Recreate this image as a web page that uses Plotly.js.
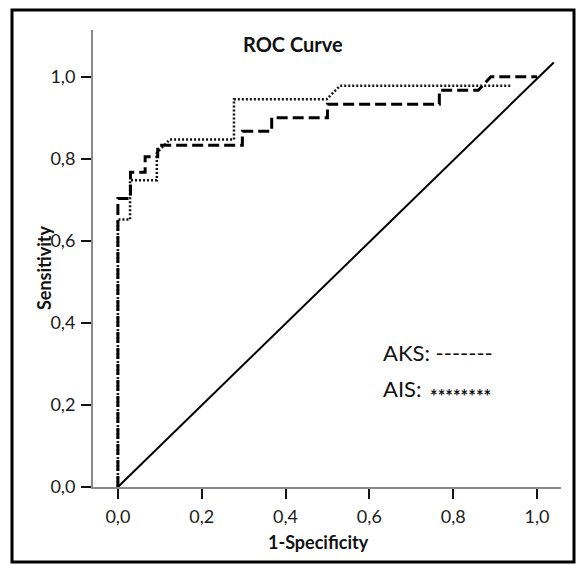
<!DOCTYPE html>
<html>
<head>
<meta charset="utf-8">
<script src="https://cdn.plot.ly/plotly-3.0.1.min.js"></script>
<style>
html,body{margin:0;padding:0;background:#fff;}
#chart{width:576px;height:565px;}
</style>
</head>
<body>
<div id="chart"></div>
<script>
// ---- data ----
const aksX = [0, 0, 0.03, 0.03, 0.065, 0.065, 0.095, 0.095, 0.297, 0.297, 0.367, 0.367, 0.50, 0.50, 0.767, 0.767, 0.86, 0.89, 1.0];
const aksY = [0, 0.703, 0.703, 0.767, 0.767, 0.805, 0.805, 0.833, 0.833, 0.867, 0.867, 0.90, 0.90, 0.933, 0.933, 0.967, 0.967, 1.0, 1.0];
const aisX = [0, 0, 0.029, 0.029, 0.093, 0.093, 0.124, 0.277, 0.277, 0.498, 0.53, 0.94];
const aisY = [0, 0.652, 0.652, 0.748, 0.748, 0.815, 0.847, 0.847, 0.945, 0.945, 0.978, 0.978];
const refX = [0, 1.04];
const refY = [0, 1.035];
const tickVals = [0, 0.2, 0.4, 0.6, 0.8, 1.0];
const tickText = ['0,0', '0,2', '0,4', '0,6', '0,8', '1,0'];
const titleText = 'ROC Curve';
const xTitle = '1-Specificity';
const yTitle = 'Sensitivity';
const legendAKS = 'AKS: -------';
const legendAISLabel = 'AIS:';
const legendAISMark = '********';

// ---- layout geometry ----
const W = 576, H = 565;
const mL = 93, mR = 15, mT = 30, mB = 78;
const pw = W - mL - mR, ph = H - mT - mB;
const px2x = p => (p - mL) / pw;
const py2y = p => (H - mB - p) / ph;
const FONT = 'Lato, "Open Sans", sans-serif';

const traces = [
  {x: refX, y: refY, mode: 'lines', line: {color: '#000', width: 2}, hoverinfo: 'skip'},
  {x: aisX, y: aisY, mode: 'lines', name: 'AIS', line: {color: '#111', width: 2.5, dash: '2px,2px'}},
  {x: aksX, y: aksY, mode: 'lines', name: 'AKS', line: {color: '#000', width: 3, dash: '11px,5px'}}
];

const axisCommon = {
  showgrid: false, zeroline: false, showline: true,
  linecolor: '#8a8a8a', linewidth: 2,
  ticks: 'outside', ticklen: 10, tickwidth: 2, tickcolor: '#111',
  tickmode: 'array', tickvals: tickVals, ticktext: tickText,
  tickfont: {family: FONT, size: 18, color: '#1a1a1a'}
};

const layout = {
  width: W, height: H, autosize: false,
  margin: {l: mL, r: mR, t: mT, b: mB, pad: 0},
  paper_bgcolor: '#fff', plot_bgcolor: '#fff',
  showlegend: false,
  xaxis: Object.assign({}, axisCommon, {range: [-0.0594, 1.0573], ticklabelstandoff: 2}),
  yaxis: Object.assign({}, axisCommon, {range: [0, 1.114], ticklabelstandoff: 2}),
  annotations: [
    {text: '<b>' + titleText + '</b>', xref: 'paper', yref: 'paper', x: px2x(293), y: py2y(44),
     xanchor: 'center', yanchor: 'middle', showarrow: false, font: {family: FONT, size: 20, color: '#111'}},
    {text: '<b>' + xTitle + '</b>', xref: 'paper', yref: 'paper', x: px2x(318), y: py2y(542),
     xanchor: 'center', yanchor: 'middle', showarrow: false, font: {family: FONT, size: 18, color: '#111'}},
    {text: '<b>' + yTitle + '</b>', xref: 'paper', yref: 'paper', x: px2x(44), y: py2y(268), textangle: -90,
     xanchor: 'center', yanchor: 'middle', showarrow: false, font: {family: FONT, size: 18, color: '#111'}},
    {text: legendAKS, xref: 'paper', yref: 'paper', x: px2x(381), y: py2y(352),
     xanchor: 'left', yanchor: 'middle', showarrow: false, font: {family: FONT, size: 22, color: '#111'}},
    {text: legendAISLabel, xref: 'paper', yref: 'paper', x: px2x(381), y: py2y(388),
     xanchor: 'left', yanchor: 'middle', showarrow: false, font: {family: FONT, size: 22, color: '#111'}},
    {text: '<b>' + legendAISMark + '</b>', xref: 'paper', yref: 'paper', x: px2x(428), y: py2y(396),
     xanchor: 'left', yanchor: 'middle', showarrow: false, font: {family: FONT, size: 18, color: '#111'}}
  ],
  shapes: [
    {type: 'rect', xref: 'paper', yref: 'paper', x0: px2x(12), x1: px2x(574), y0: py2y(562), y1: py2y(10),
     line: {color: '#000', width: 3}, fillcolor: 'rgba(0,0,0,0)'}
  ]
};

Plotly.newPlot('chart', traces, layout, {staticPlot: true, displayModeBar: false});
</script>
</body>
</html>
